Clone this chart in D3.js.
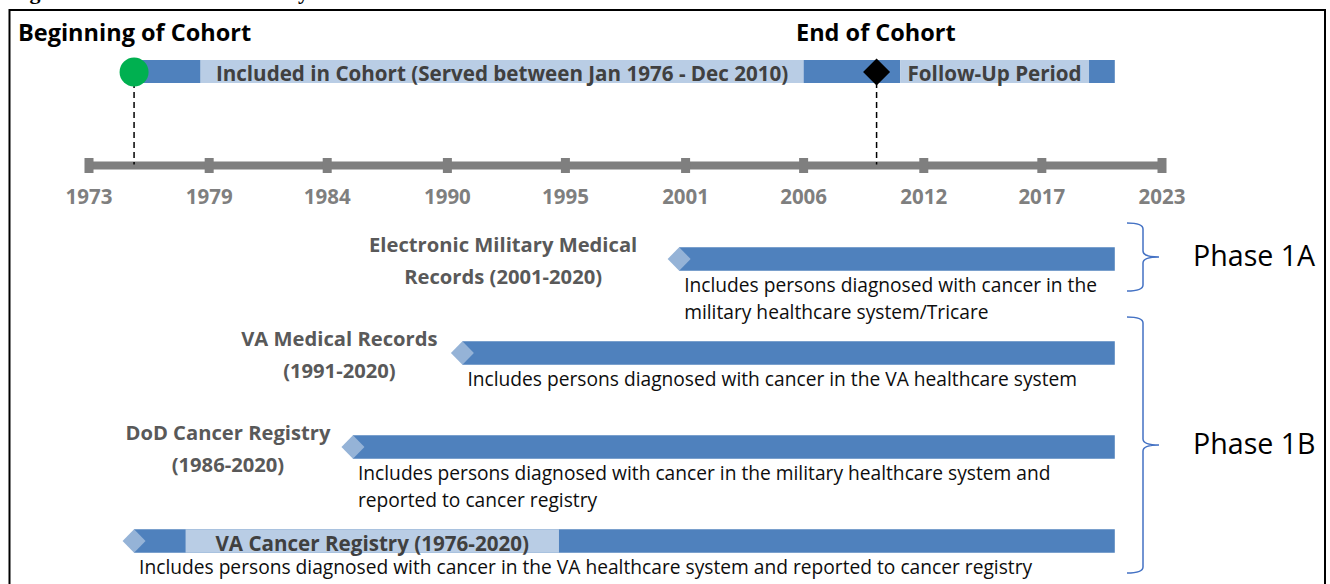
<!DOCTYPE html>
<html>
<head>
<meta charset="utf-8">
<script src="https://cdn.jsdelivr.net/npm/d3@7"></script>
<style>
  html, body { margin: 0; padding: 0; background: #fff; overflow: hidden; }
  svg { display: block; font-family: 'Open Sans', Lato, sans-serif; }
</style>
</head>
<body>
<div class="chart-container"></div>
<script>
// axis: ticks are evenly spaced, labels are the rounded years
const axisYears = [1973, 1978.6, 1984.1, 1989.7, 1995.2, 2000.8, 2006.3, 2011.9, 2017.4, 2023]
const axisLabels = ['1973', '1979', '1984', '1990', '1995', '2001', '2006', '2012', '2017', '2023']

// cohort bar, alternating dark / light pieces between these years
const cohortBreaks = [1975.1, 1978.2, 2006.3, 2010.8, 2019.6, 2020.8]
const cohortStart = 1975.1
const cohortEnd = 2009.7
const cohortText = 'Included in Cohort (Served between Jan 1976 - Dec 2010)'
const followUpText = 'Follow-Up Period'

// data sources
const sourceTitles = [
  ['Electronic Military Medical', 'Records (2001-2020)'],
  ['VA Medical Records', '(1991-2020)'],
  ['DoD Cancer Registry', '(1986-2020)'],
  ['VA Cancer Registry (1976-2020)'],
]
const sourceStart = [2000.5, 1990.4, 1985.3, 1975.1]
const sourceEnd = [2020.8, 2020.8, 2020.8, 2020.8]
const sourceNotes = [
  ['Includes persons diagnosed with cancer in the', 'military healthcare system/Tricare'],
  ['Includes persons diagnosed with cancer in the VA healthcare system'],
  ['Includes persons diagnosed with cancer in the military healthcare system and', 'reported to cancer registry'],
  ['Includes persons diagnosed with cancer in the VA healthcare system and reported to cancer registry'],
]
const registryLight = [1977.5, 1994.9]

const phaseNames = ['Phase 1A', 'Phase 1B']
const phaseRows = [[0, 0], [1, 3]]

const width = 1330
const height = 584
const dark = '#4f81bd'
const light = '#b9cde5'
const tipColor = '#95b3d7'

const svg = d3
  .select('.chart-container')
  .append('svg')
  .attr('width', width)
  .attr('height', height)

const x = d3.scaleLinear().domain([1973, 2023]).range([89, 1162])
const row = d3
  .scalePoint()
  .domain(d3.range(sourceTitles.length))
  .range([259, 541])

// caption that is cut off at the top of the page
svg
  .append('text')
  .attr('x', 10)
  .attr('y', -1)
  .attr('font-family', "'Liberation Serif', serif")
  .attr('font-weight', 'bold')
  .attr('font-size', 22)
  .text('Figure 1. Overview of the Study')

// frame
svg
  .append('rect')
  .attr('x', 9.5)
  .attr('y', 10)
  .attr('width', 1315.5)
  .attr('height', 620)
  .attr('fill', 'none')
  .attr('stroke', '#000')
  .attr('stroke-width', 2)

// headings
svg
  .append('text')
  .attr('x', 18)
  .attr('y', 41)
  .attr('font-weight', 'bold')
  .attr('font-size', 23.5)
  .attr('fill', '#000')
  .text('Beginning of Cohort')

svg
  .append('text')
  .attr('x', 796)
  .attr('y', 41)
  .attr('font-weight', 'bold')
  .attr('font-size', 23.5)
  .attr('fill', '#000')
  .text('End of Cohort')

// cohort bar
const barTop = 60
const barH = 23
const cohortPieces = d3.pairs(cohortBreaks)
svg
  .append('g')
  .selectAll('rect')
  .data(cohortPieces)
  .enter()
  .append('rect')
  .attr('x', (d) => x(d[0]))
  .attr('y', barTop)
  .attr('width', (d) => x(d[1]) - x(d[0]))
  .attr('height', barH)
  .attr('fill', (d, i) => (i % 2 ? light : dark))

svg
  .append('text')
  .attr('x', (x(cohortBreaks[1]) + x(cohortBreaks[2])) / 2)
  .attr('y', barTop + 21)
  .attr('text-anchor', 'middle')
  .attr('font-weight', 'bold')
  .attr('font-size', 20.6)
  .attr('fill', '#404040')
  .text(cohortText)

svg
  .append('text')
  .attr('x', (x(cohortBreaks[3]) + x(cohortBreaks[4])) / 2)
  .attr('y', barTop + 21)
  .attr('text-anchor', 'middle')
  .attr('font-weight', 'bold')
  .attr('font-size', 20.6)
  .attr('fill', '#404040')
  .text(followUpText)

// timeline axis
const axisY = 165.5
svg
  .append('line')
  .attr('x1', x(1973) - 4)
  .attr('x2', x(2023) + 4)
  .attr('y1', axisY)
  .attr('y2', axisY)
  .attr('stroke', '#7f7f7f')
  .attr('stroke-width', 8)

const ticks = svg
  .append('g')
  .selectAll('g')
  .data(axisYears)
  .enter()
  .append('g')
  .attr('transform', (d) => `translate(${x(d)},${axisY})`)

ticks
  .append('rect')
  .attr('x', -4.5)
  .attr('y', -7.5)
  .attr('width', 9)
  .attr('height', 15)
  .attr('fill', '#7f7f7f')

ticks
  .append('text')
  .attr('y', 38)
  .attr('text-anchor', 'middle')
  .attr('font-weight', 'bold')
  .attr('font-size', 20.5)
  .attr('fill', '#7f7f7f')
  .text((d, i) => axisLabels[i])

// start / end markers with dashed drop lines
const markerY = barTop + barH / 2 + 0.5
;[cohortStart, cohortEnd].forEach((yr) => {
  svg
    .append('line')
    .attr('x1', x(yr))
    .attr('x2', x(yr))
    .attr('y1', markerY)
    .attr('y2', axisY - 1)
    .attr('stroke', '#000')
    .attr('stroke-width', 1.5)
    .attr('stroke-dasharray', '6,4')
})

svg
  .append('circle')
  .attr('cx', x(cohortStart))
  .attr('cy', markerY)
  .attr('r', 14.5)
  .attr('fill', '#00b050')

svg
  .append('path')
  .attr('d', () => {
    const cx = x(cohortEnd)
    const s = 13.5
    return `M${cx - s},${markerY}L${cx},${markerY - s}L${cx + s},${markerY}L${cx},${markerY + s}Z`
  })
  .attr('fill', '#000')

// data source rows
const rows = svg
  .append('g')
  .selectAll('g')
  .data(sourceTitles)
  .enter()
  .append('g')
  .attr('class', 'source')

const half = 11.75
rows
  .append('rect')
  .attr('x', (d, i) => x(sourceStart[i]))
  .attr('y', (d, i) => row(i) - half)
  .attr('width', (d, i) => x(sourceEnd[i]) - x(sourceStart[i]))
  .attr('height', half * 2)
  .attr('fill', dark)

// light band inside the VA cancer registry bar
rows
  .filter((d, i) => i === sourceTitles.length - 1)
  .append('rect')
  .attr('x', x(registryLight[0]))
  .attr('y', row(3) - half)
  .attr('width', x(registryLight[1]) - x(registryLight[0]))
  .attr('height', half * 2)
  .attr('fill', light)

rows
  .append('path')
  .attr('d', (d, i) => {
    const cx = x(sourceStart[i])
    const cy = row(i)
    return `M${cx - 11.5},${cy}L${cx},${cy - half}L${cx + 11.5},${cy}L${cx},${cy + half}Z`
  })
  .attr('fill', tipColor)

// titles left of the bars (last one sits inside its bar)
const titleShift = [-176, -123, -125]
rows.each(function (lines, i) {
  const g = d3.select(this)
  if (lines.length === 1) {
    g.append('text')
      .attr('x', (x(registryLight[0]) + x(registryLight[1])) / 2)
      .attr('y', row(i) + 9.5)
      .attr('text-anchor', 'middle')
      .attr('font-weight', 'bold')
      .attr('font-size', 20.6)
      .attr('fill', '#404040')
      .text(lines[0])
    return
  }
  g.selectAll('text.title')
    .data(lines)
    .enter()
    .append('text')
    .attr('class', 'title')
    .attr('x', x(sourceStart[i]) + titleShift[i])
    .attr('y', (t, j) => row(i) - 7 + j * 31.5)
    .attr('text-anchor', 'middle')
    .attr('font-weight', 'bold')
    .attr('font-size', 20.2)
    .attr('fill', '#595959')
    .text((t) => t)
})

// notes under the bars
rows.each(function (lines, i) {
  d3.select(this)
    .selectAll('text.note')
    .data(sourceNotes[i])
    .enter()
    .append('text')
    .attr('class', 'note')
    .attr('x', x(sourceStart[i]) + 5)
    .attr('y', (t, j) => row(i) + 33 + j * 26.5)
    .attr('font-size', 19.2)
    .attr('fill', '#0d0d0d')
    .text((t) => t)
})

// phase braces
const braceX = 1127
phaseNames.forEach((name, p) => {
  const y0 = row(phaseRows[p][0]) - 36
  const y1 = row(phaseRows[p][1]) + 32
  const ym = (y0 + y1) / 2
  const sx = braceX + 16
  const r = 6
  svg
    .append('path')
    .attr(
      'd',
      `M${braceX},${y0}Q${sx},${y0} ${sx},${y0 + r}` +
        `L${sx},${ym - r}Q${sx},${ym} ${sx + 16},${ym}` +
        `Q${sx},${ym} ${sx},${ym + r}` +
        `L${sx},${y1 - r}Q${sx},${y1} ${braceX},${y1}`
    )
    .attr('fill', 'none')
    .attr('stroke', '#4472c4')
    .attr('stroke-width', 1.5)

  svg
    .append('text')
    .attr('x', 1193)
    .attr('y', ym + 9)
    .attr('font-size', 28.6)
    .attr('fill', '#000')
    .text(name)
})
</script>
</body>
</html>
